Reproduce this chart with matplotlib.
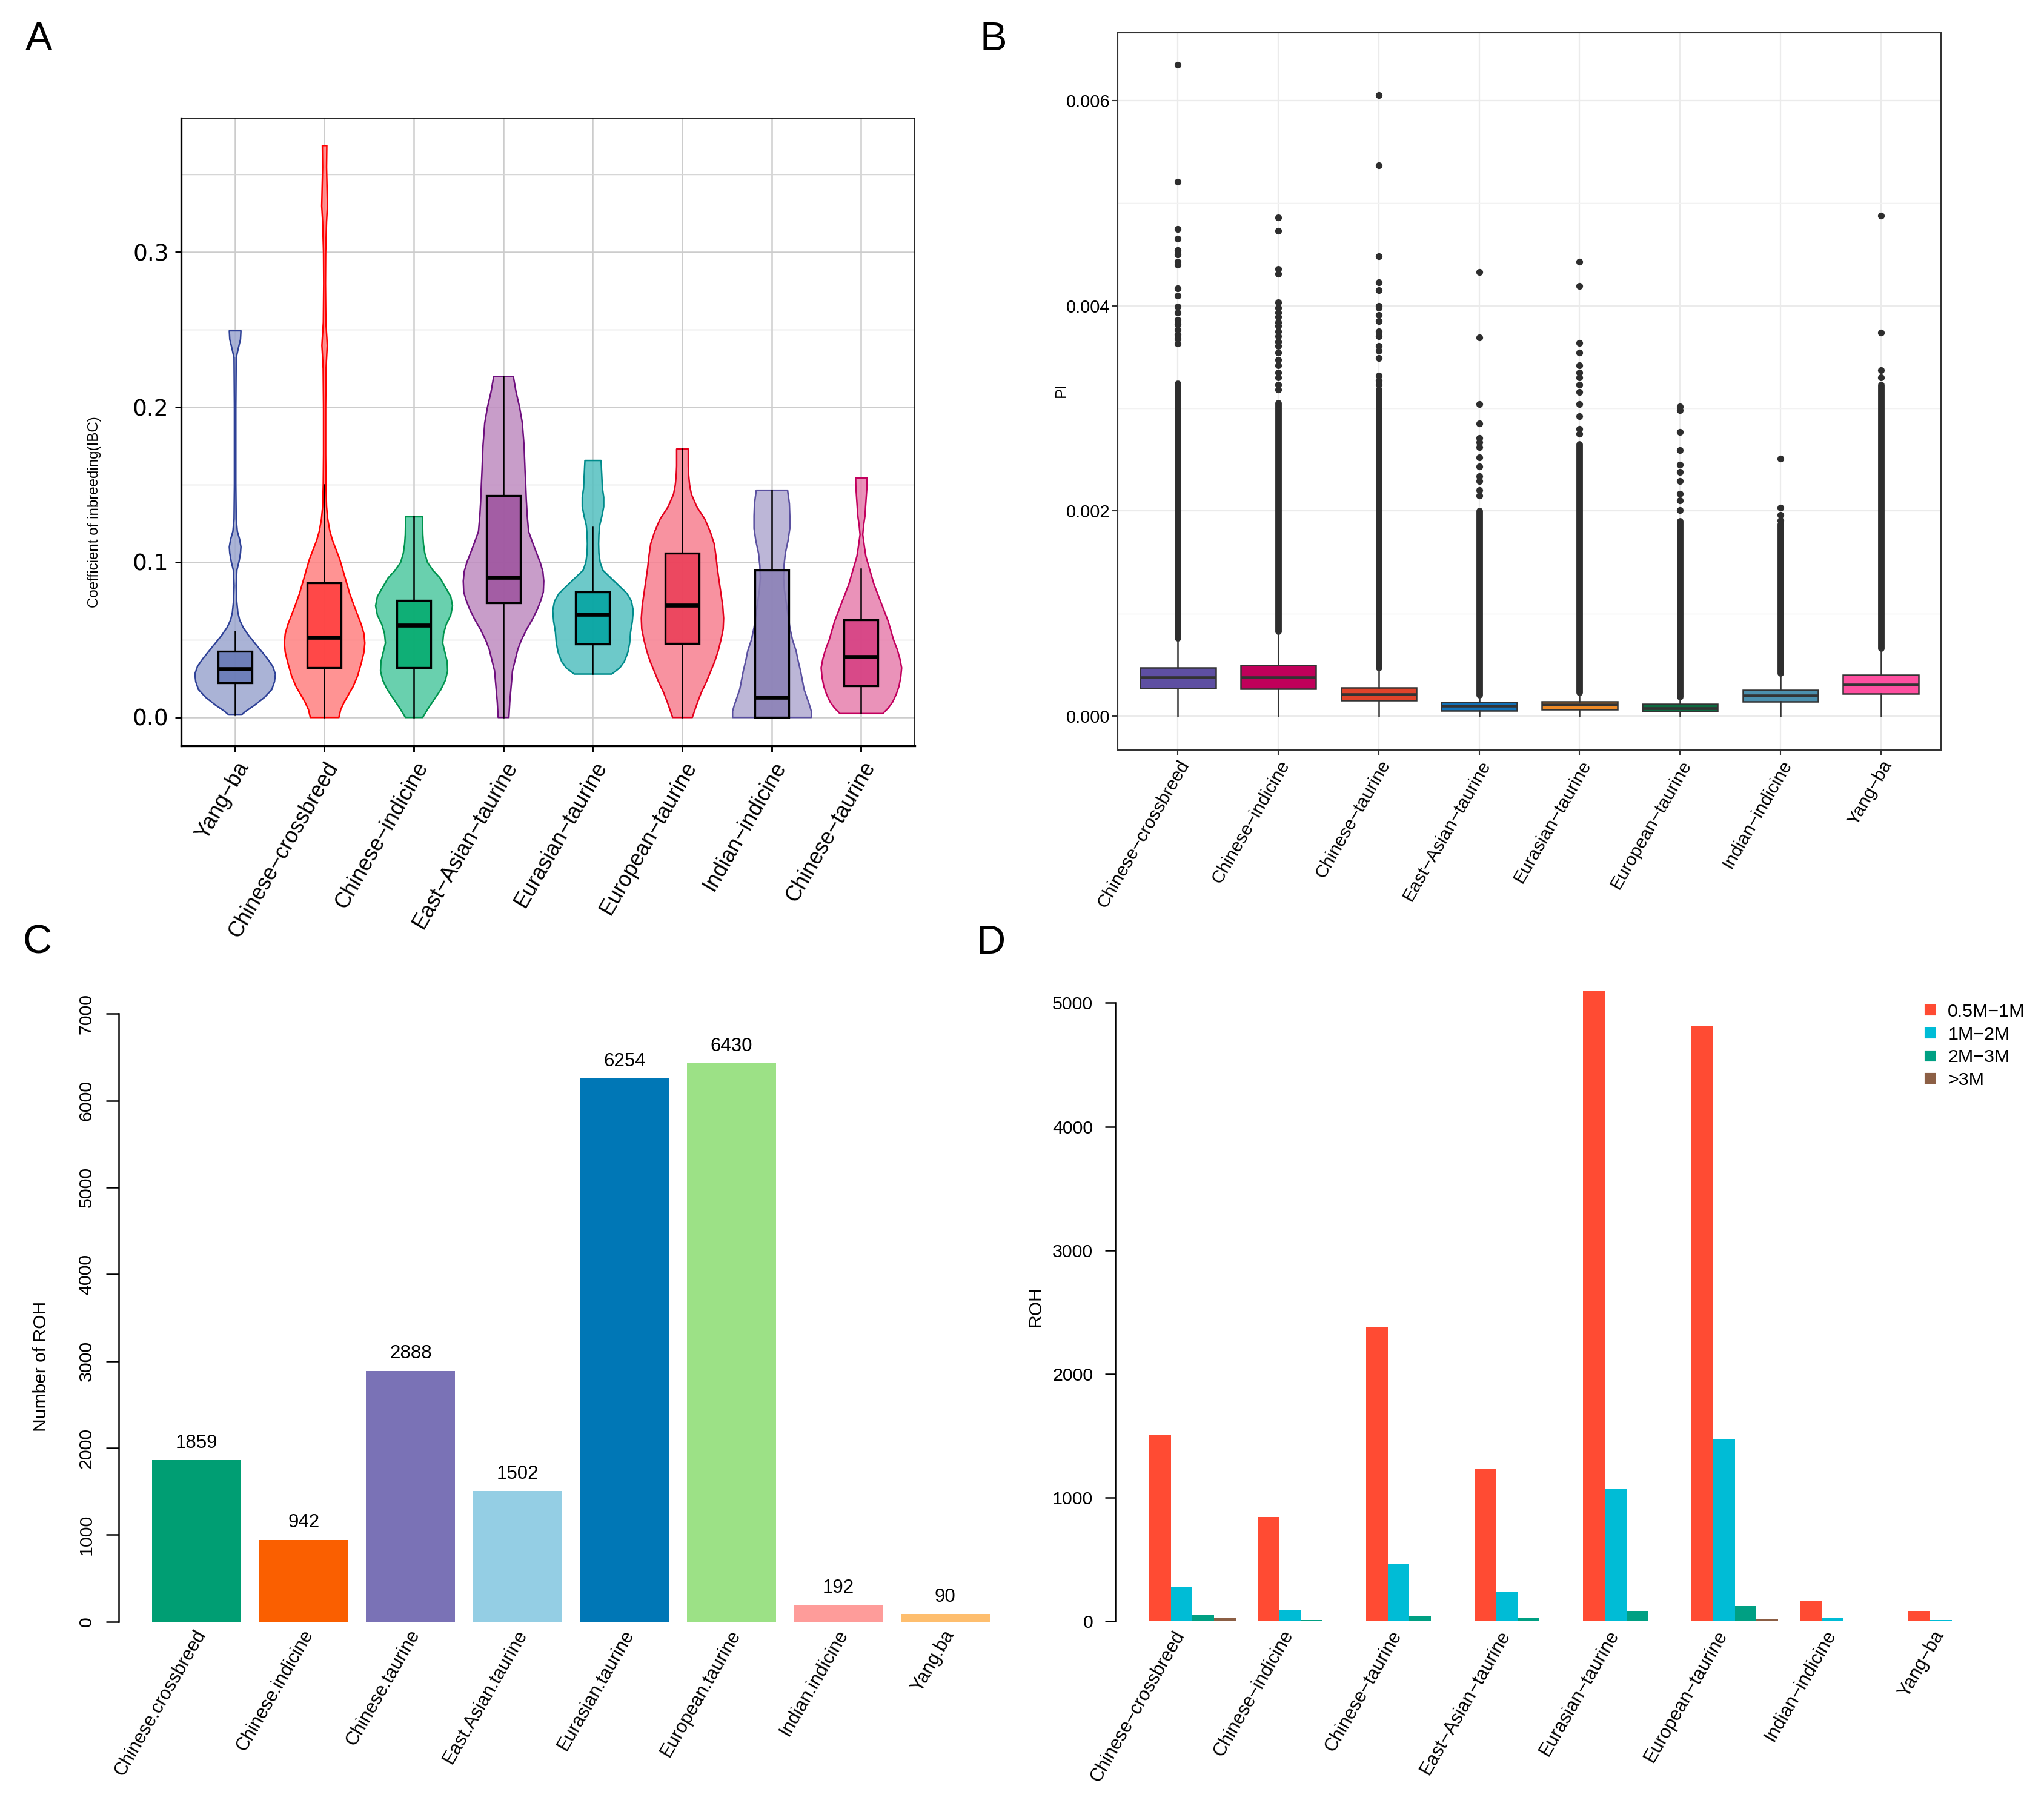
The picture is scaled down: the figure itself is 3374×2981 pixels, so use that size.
import numpy as np
import matplotlib.pyplot as plt
from matplotlib.colors import to_rgba
from matplotlib.lines import Line2D

plt.rcParams['font.family'] = ['Liberation Sans', 'DejaVu Sans']

# ---------------- panel A: inbreeding coefficient (violin + box) ----------------
a_names = ['Yang−ba', 'Chinese−crossbreed', 'Chinese−indicine', 'East−Asian−taurine',
           'Eurasian−taurine', 'European−taurine', 'Indian−indicine', 'Chinese−taurine']
a_edge = ['#2E4197', '#FF0000', '#00944E', '#6E0F7E', '#008B8B', '#E4001B', '#5A50A0', '#C2005E']
a_fill = ['#9BA6CF', '#FF8080', '#4FC8A0', '#BF8CC0', '#54C0C0', '#F77F90', '#B1AAD0', '#E77FAD']
a_boxc = ['#6476B4', '#FF3B3B', '#00AA6C', '#9D529E', '#00A3A0', '#EB3B55', '#8A7FB5', '#D53C80']

# violin outlines: IBC level and half width (category units)
a_vy = [
    [0.0016, 0.004, 0.008, 0.013, 0.018, 0.023, 0.028, 0.033, 0.038, 0.043, 0.048, 0.053, 0.058, 0.063,
     0.068, 0.075, 0.085, 0.095, 0.101, 0.106, 0.110, 0.115, 0.120, 0.128, 0.150, 0.200, 0.232, 0.238,
     0.244, 0.2495],
    [0.0, 0.005, 0.010, 0.015, 0.020, 0.027, 0.035, 0.042, 0.048, 0.054, 0.060, 0.066, 0.072, 0.080,
     0.088, 0.096, 0.102, 0.108, 0.114, 0.120, 0.128, 0.136, 0.150, 0.170, 0.200, 0.225, 0.235, 0.240,
     0.245, 0.255, 0.280, 0.300, 0.320, 0.330, 0.340, 0.355, 0.369],
    [0.0, 0.006, 0.012, 0.018, 0.024, 0.030, 0.036, 0.042, 0.048, 0.054, 0.060, 0.066, 0.072, 0.078,
     0.084, 0.090, 0.095, 0.100, 0.106, 0.112, 0.118, 0.124, 0.1295],
    [0.0, 0.010, 0.020, 0.030, 0.037, 0.044, 0.050, 0.057, 0.063, 0.070, 0.076, 0.081, 0.088, 0.094,
     0.100, 0.106, 0.112, 0.120, 0.130, 0.140, 0.150, 0.160, 0.175, 0.190, 0.200, 0.210, 0.2199],
    [0.028, 0.032, 0.036, 0.042, 0.048, 0.055, 0.062, 0.069, 0.075, 0.080, 0.085, 0.090, 0.095, 0.100,
     0.106, 0.112, 0.118, 0.124, 0.130, 0.136, 0.142, 0.148, 0.154, 0.160, 0.1658],
    [0.0, 0.005, 0.010, 0.016, 0.022, 0.029, 0.036, 0.043, 0.050, 0.057, 0.064, 0.072, 0.080, 0.088,
     0.096, 0.104, 0.112, 0.120, 0.128, 0.136, 0.144, 0.150, 0.156, 0.162, 0.168, 0.1732],
    [0.0, 0.004, 0.008, 0.013, 0.018, 0.024, 0.030, 0.036, 0.043, 0.050, 0.058, 0.066, 0.074, 0.082,
     0.090, 0.098, 0.106, 0.114, 0.122, 0.130, 0.138, 0.1466],
    [0.0025, 0.006, 0.010, 0.015, 0.020, 0.026, 0.032, 0.038, 0.044, 0.050, 0.056, 0.062, 0.068, 0.074,
     0.080, 0.086, 0.092, 0.098, 0.104, 0.110, 0.118, 0.124, 0.130, 0.137, 0.143, 0.149, 0.1545],
]
a_vw = [
    [0.07, 0.12, 0.22, 0.33, 0.41, 0.44, 0.45, 0.42, 0.36, 0.29, 0.22, 0.15, 0.09, 0.05,
     0.03, 0.018, 0.012, 0.02, 0.045, 0.06, 0.065, 0.05, 0.025, 0.012, 0.008, 0.008, 0.012, 0.035,
     0.06, 0.065],
    [0.16, 0.18, 0.22, 0.27, 0.32, 0.37, 0.41, 0.44, 0.45, 0.44, 0.41, 0.37, 0.33, 0.28,
     0.24, 0.20, 0.17, 0.13, 0.09, 0.06, 0.035, 0.022, 0.015, 0.012, 0.012, 0.016, 0.025, 0.03,
     0.025, 0.014, 0.01, 0.012, 0.022, 0.032, 0.028, 0.022, 0.025],
    [0.097, 0.16, 0.23, 0.30, 0.35, 0.375, 0.37, 0.345, 0.32, 0.33, 0.36, 0.41, 0.43, 0.41,
     0.35, 0.29, 0.21, 0.15, 0.12, 0.105, 0.098, 0.096, 0.096],
    [0.06, 0.07, 0.085, 0.10, 0.13, 0.16, 0.20, 0.26, 0.32, 0.38, 0.42, 0.445, 0.45, 0.44,
     0.41, 0.37, 0.33, 0.28, 0.265, 0.255, 0.248, 0.24, 0.23, 0.21, 0.18, 0.14, 0.11],
    [0.21, 0.30, 0.35, 0.39, 0.41, 0.42, 0.44, 0.45, 0.43, 0.38, 0.29, 0.20, 0.11, 0.08,
     0.066, 0.063, 0.066, 0.075, 0.10, 0.12, 0.12, 0.105, 0.10, 0.095, 0.09],
    [0.11, 0.14, 0.17, 0.21, 0.26, 0.31, 0.36, 0.40, 0.43, 0.455, 0.46, 0.45, 0.43, 0.41,
     0.39, 0.375, 0.355, 0.31, 0.25, 0.16, 0.10, 0.08, 0.07, 0.065, 0.065, 0.065],
    [0.44, 0.44, 0.42, 0.39, 0.36, 0.34, 0.32, 0.295, 0.27, 0.23, 0.20, 0.18, 0.16, 0.14,
     0.13, 0.135, 0.15, 0.18, 0.20, 0.20, 0.195, 0.175],
    [0.24, 0.30, 0.35, 0.39, 0.42, 0.44, 0.45, 0.43, 0.40, 0.36, 0.33, 0.30, 0.26, 0.22,
     0.18, 0.14, 0.11, 0.08, 0.05, 0.034, 0.015, 0.025, 0.04, 0.048, 0.055, 0.062, 0.064],
]
# box statistics
a_wlo = [0.0016, 0.0, 0.0, 0.0, 0.028, 0.0, 0.0, 0.0025]
a_q1 = [0.0222, 0.032, 0.032, 0.0739, 0.0472, 0.0474, 0.0, 0.0203]
a_med = [0.031, 0.0513, 0.0591, 0.0903, 0.0665, 0.072, 0.0126, 0.0389]
a_q3 = [0.0425, 0.0865, 0.0755, 0.1428, 0.0809, 0.1058, 0.0949, 0.0629]
a_whi = [0.0552, 0.150, 0.1295, 0.2199, 0.1228, 0.1732, 0.1466, 0.0955]

# ---------------- panel B: nucleotide diversity (PI) boxplots ----------------
b_names = ['Chinese−crossbreed', 'Chinese−indicine', 'Chinese−taurine', 'East−Asian−taurine',
           'Eurasian−taurine', 'European−taurine', 'Indian−indicine', 'Yang−ba']
b_colors = ['#5E4FA2', '#C0005A', '#E0432A', '#1272B8', '#EF8A26', '#0D6A40', '#4B8FAD', '#FF4FA0']
b_q1 = [0.000273, 0.000268, 0.000155, 0.000052, 0.000066, 0.000047, 0.000141, 0.000221]
b_med = [0.000381, 0.000381, 0.000212, 0.000099, 0.000113, 0.000075, 0.000202, 0.000310]
b_q3 = [0.000475, 0.000498, 0.000277, 0.000136, 0.000141, 0.000118, 0.000254, 0.000400]
b_wlo = [0.0, 0.0, 0.0, 0.0, 0.0, 0.0, 0.0, 0.0]
b_whi = [0.000738, 0.000810, 0.000456, 0.000197, 0.000221, 0.000174, 0.000400, 0.000644]
# outliers so dense that they merge into a column: lower and upper end
b_dense_lo = [0.00076, 0.00083, 0.00047, 0.00021, 0.00023, 0.00019, 0.00042, 0.00066]
b_dense_hi = [0.00324, 0.00305, 0.00318, 0.00200, 0.00265, 0.00190, 0.00187, 0.00323]
# separate outlier points above the dense columns
b_sparse = [
    [0.00363, 0.00368, 0.00372, 0.00377, 0.00382, 0.00386, 0.00393, 0.00399, 0.0041, 0.00417,
     0.0044, 0.00443, 0.0045, 0.00454, 0.00465, 0.00475, 0.00521, 0.00635],
    [0.00318, 0.00323, 0.00330, 0.00335, 0.00342, 0.00347, 0.00354, 0.00361, 0.00365, 0.00370,
     0.00375, 0.00380, 0.00384, 0.00389, 0.00393, 0.00398, 0.00403, 0.00431, 0.00436, 0.00473, 0.00486],
    [0.00323, 0.00327, 0.00332, 0.00349, 0.00356, 0.00361, 0.0037, 0.00375, 0.00385, 0.00391,
     0.00398, 0.004, 0.00415, 0.00423, 0.00448, 0.00537, 0.00605],
    [0.00215, 0.0022, 0.00229, 0.00234, 0.00243, 0.00252, 0.00262, 0.00267, 0.00271, 0.00285,
     0.00304, 0.00369, 0.00433],
    [0.00275, 0.0028, 0.00292, 0.00304, 0.00316, 0.00323, 0.0033, 0.00335, 0.00342, 0.00354,
     0.00364, 0.00419, 0.00443],
    [0.00201, 0.0021, 0.00217, 0.00229, 0.00238, 0.00245, 0.00259, 0.00277, 0.00298, 0.00302],
    [0.00191, 0.00196, 0.00203, 0.00251],
    [0.0033, 0.00337, 0.00374, 0.00488],
]

# ---------------- panel C: number of ROH ----------------
c_names = ['Chinese.crossbreed', 'Chinese.indicine', 'Chinese.taurine', 'East.Asian.taurine',
           'Eurasian.taurine', 'European.taurine', 'Indian.indicine', 'Yang.ba']
c_values = [1859, 942, 2888, 1502, 6254, 6430, 192, 90]
c_colors = ['#009E73', '#FA5F00', '#7A72B6', '#94CEE4', '#0077B6', '#9CE186', '#FE9C9A', '#FEBE6E']

# ---------------- panel D: ROH by length class ----------------
d_names = ['Chinese−crossbreed', 'Chinese−indicine', 'Chinese−taurine', 'East−Asian−taurine',
           'Eurasian−taurine', 'European−taurine', 'Indian−indicine', 'Yang−ba']
d_classes = ['0.5M−1M', '1M−2M', '2M−3M', '>3M']
d_colors = ['#FF4B33', '#00BCD6', '#00A083', '#8C5F45']
d_05_1 = [1510, 845, 2380, 1235, 5095, 4815, 165, 86]
d_1_2 = [275, 92, 460, 237, 1072, 1470, 24, 9]
d_2_3 = [50, 9, 45, 30, 84, 125, 8, 7]
d_gt3 = [24, 7, 7, 7, 8, 20, 7, 7]

W, H = 3374, 2981
fig = plt.figure(figsize=(W / 300, H / 300), dpi=300)


def px_box(l, t, r, b):
    return [l / W, 1 - b / H, (r - l) / W, (b - t) / H]


# ======== A ========
axA = fig.add_axes(px_box(299, 195, 1510, 1231))
pos = np.arange(1, 9)
for i in range(8):
    vy = np.array(a_vy[i])
    vw = np.array(a_vw[i])
    vp = dict(coords=vy, vals=vw, mean=a_med[i], median=a_med[i], min=vy.min(), max=vy.max())
    parts = axA.violin([vp], positions=[pos[i]], widths=[2 * vw.max()],
                       showmeans=False, showextrema=False, showmedians=False)
    body = parts['bodies'][0]
    body.set_alpha(None)
    body.set_facecolor(to_rgba(a_fill[i], 0.85))
    body.set_edgecolor(a_edge[i])
    body.set_linewidth(0.6)
    body.set_zorder(2)

a_stats = [dict(med=a_med[i], q1=a_q1[i], q3=a_q3[i], whislo=a_wlo[i], whishi=a_whi[i], fliers=[])
           for i in range(8)]
bpA = axA.bxp(a_stats, positions=pos, widths=0.38, patch_artist=True, showfliers=False,
              showcaps=False, zorder=3,
              boxprops=dict(edgecolor='black', linewidth=0.8),
              medianprops=dict(color='black', linewidth=1.6, solid_capstyle='butt'),
              whiskerprops=dict(color='black', linewidth=0.6))
for patch, c in zip(bpA['boxes'], a_boxc):
    patch.set_facecolor(to_rgba(c, 0.85))

axA.set_xlim(0.4, 8.6)
axA.set_ylim(-0.0185, 0.3865)
axA.set_yticks([0.0, 0.1, 0.2, 0.3])
axA.set_yticks([0.05, 0.15, 0.25, 0.35], minor=True)
axA.set_yticklabels(['0.0', '0.1', '0.2', '0.3'], fontsize=9, family='DejaVu Sans')
axA.set_xticks(pos)
axA.set_xticklabels(a_names, rotation=60, ha='right', va='top', rotation_mode='anchor', fontsize=8.6)
axA.set_axisbelow(True)
axA.grid(which='major', color='#CCCCCC', linewidth=0.6)
axA.grid(which='minor', axis='y', color='#D6D6D6', linewidth=0.35)
axA.tick_params(axis='both', which='major', length=2.4, width=0.7, color='black', pad=2.5)
axA.tick_params(axis='y', which='minor', length=0)
for s in ['top', 'right']:
    axA.spines[s].set_linewidth(0.4)
for s in ['left', 'bottom']:
    axA.spines[s].set_linewidth(0.8)
fig.text(156 / W, 1 - 845 / H, 'Coefficient of inbreeding(IBC)', rotation=90,
         ha='center', va='center', fontsize=5.8)

# ======== B ========
axB = fig.add_axes(px_box(1845, 54, 3204, 1238))
b_stats = [dict(med=b_med[i], q1=b_q1[i], q3=b_q3[i], whislo=b_wlo[i], whishi=b_whi[i], fliers=[])
           for i in range(8)]
for i in range(8):
    axB.plot([pos[i], pos[i]], [b_dense_lo[i], b_dense_hi[i]], color='#2E2E2E', lw=2.6,
             solid_capstyle='round', zorder=2)
    axB.plot([pos[i]] * len(b_sparse[i]), b_sparse[i], 'o', ms=2.7, mew=0, color='#2E2E2E', zorder=2)
bpB = axB.bxp(b_stats, positions=pos, widths=0.75, patch_artist=True, showfliers=False,
              showcaps=False, zorder=3,
              boxprops=dict(edgecolor='#333333', linewidth=0.6),
              medianprops=dict(color='#333333', linewidth=1.1, solid_capstyle='butt'),
              whiskerprops=dict(color='#333333', linewidth=0.6))
for patch, c in zip(bpB['boxes'], b_colors):
    patch.set_facecolor(c)
axB.set_xlim(0.4, 8.6)
axB.set_ylim(-0.00033, 0.00666)
axB.set_yticks([0.0, 0.002, 0.004, 0.006])
axB.set_yticks([0.001, 0.003, 0.005], minor=True)
axB.set_yticklabels(['0.000', '0.002', '0.004', '0.006'], fontsize=7)
axB.set_xticks(pos)
axB.set_xticklabels(b_names, rotation=60, ha='right', va='top', rotation_mode='anchor', fontsize=7.2)
axB.set_axisbelow(True)
axB.grid(which='major', color='#EBEBEB', linewidth=0.55)
axB.grid(which='minor', axis='y', color='#F2F2F2', linewidth=0.35)
axB.tick_params(axis='both', which='major', length=2.2, width=0.5, color='#333333', pad=0.8)
axB.tick_params(axis='y', which='minor', length=0)
for s in axB.spines.values():
    s.set_color('#333333')
    s.set_linewidth(0.5)
fig.text(1752 / W, 1 - 644 / H, 'PI', rotation=90, ha='center', va='center', fontsize=6.2)

# ======== C ========
axC = fig.add_axes(px_box(196, 1633, 1689, 2717))
c_left = 0.2 + 1.2 * np.arange(8)
axC.bar(c_left, c_values, width=1.0, align='edge', color=c_colors)
for x, v in zip(c_left, c_values):
    axC.annotate(str(v), (x + 0.5, v), xytext=(0, 3.2), textcoords='offset points',
                 ha='center', va='bottom', fontsize=7.5)
for x, name in zip(c_left, c_names):
    axC.text(x + 0.47, -60, name, rotation=60, ha='right', va='top', rotation_mode='anchor',
             fontsize=7.4)
axC.set_xlim(-0.176, 9.976)
axC.set_ylim(-280, 7280)
axC.set_xticks([])
axC.set_yticks(np.arange(0, 7001, 1000))
axC.set_yticklabels([str(v) for v in range(0, 7001, 1000)], rotation=90, va='center', fontsize=7.3)
axC.tick_params(axis='y', length=5, width=0.6, pad=4.5)
for s in ['top', 'right', 'bottom']:
    axC.spines[s].set_visible(False)
axC.spines['left'].set_bounds(0, 7000)
axC.spines['left'].set_linewidth(0.6)
fig.text(68 / W, 1 - 2255 / H, 'Number of ROH', rotation=90, ha='center', va='center', fontsize=7.2)

# ======== D ========
axD = fig.add_axes(px_box(1841, 1633, 3349, 2717))
d_series = [d_05_1, d_1_2, d_2_3, d_gt3]
g_left = 1 + 5 * np.arange(8)
for j, vals in enumerate(d_series):
    axD.bar(g_left + j, vals, width=1.0, align='edge', color=d_colors[j])
for x, name in zip(g_left, d_names):
    axD.text(x + 1.1, -50, name, rotation=60, ha='right', va='top', rotation_mode='anchor',
             fontsize=7.4)
axD.set_xlim(-0.56, 41.56)
axD.set_ylim(-200, 5110)
axD.set_xticks([])
axD.set_yticks(np.arange(0, 5001, 1000))
axD.set_yticklabels([str(v) for v in range(0, 5001, 1000)], fontsize=7.3)
axD.tick_params(axis='y', length=4, width=0.6, pad=4.8)
for s in ['top', 'right', 'bottom']:
    axD.spines[s].set_visible(False)
axD.spines['left'].set_bounds(0, 5000)
axD.spines['left'].set_linewidth(0.6)
handles = [Line2D([], [], marker='s', ls='', color=c, ms=3.4) for c in d_colors]
axD.legend(handles, d_classes, loc='upper right', bbox_to_anchor=(1.011, 1.0), frameon=False,
           fontsize=7.3, handlelength=0.9, handletextpad=0.5, labelspacing=0.32,
           borderaxespad=0, borderpad=0.75)
fig.text(1710 / W, 1 - 2157 / H, 'ROH', rotation=90, ha='center', va='center', fontsize=7.2)

# panel letters
for lab, (x, y) in zip('ABCD', [(64, 66), (1640, 66), (62, 1557), (1636, 1557)]):
    fig.text(x / W, 1 - y / H, lab, ha='center', va='center', fontsize=16)

fig.savefig('out.png', dpi=300)
